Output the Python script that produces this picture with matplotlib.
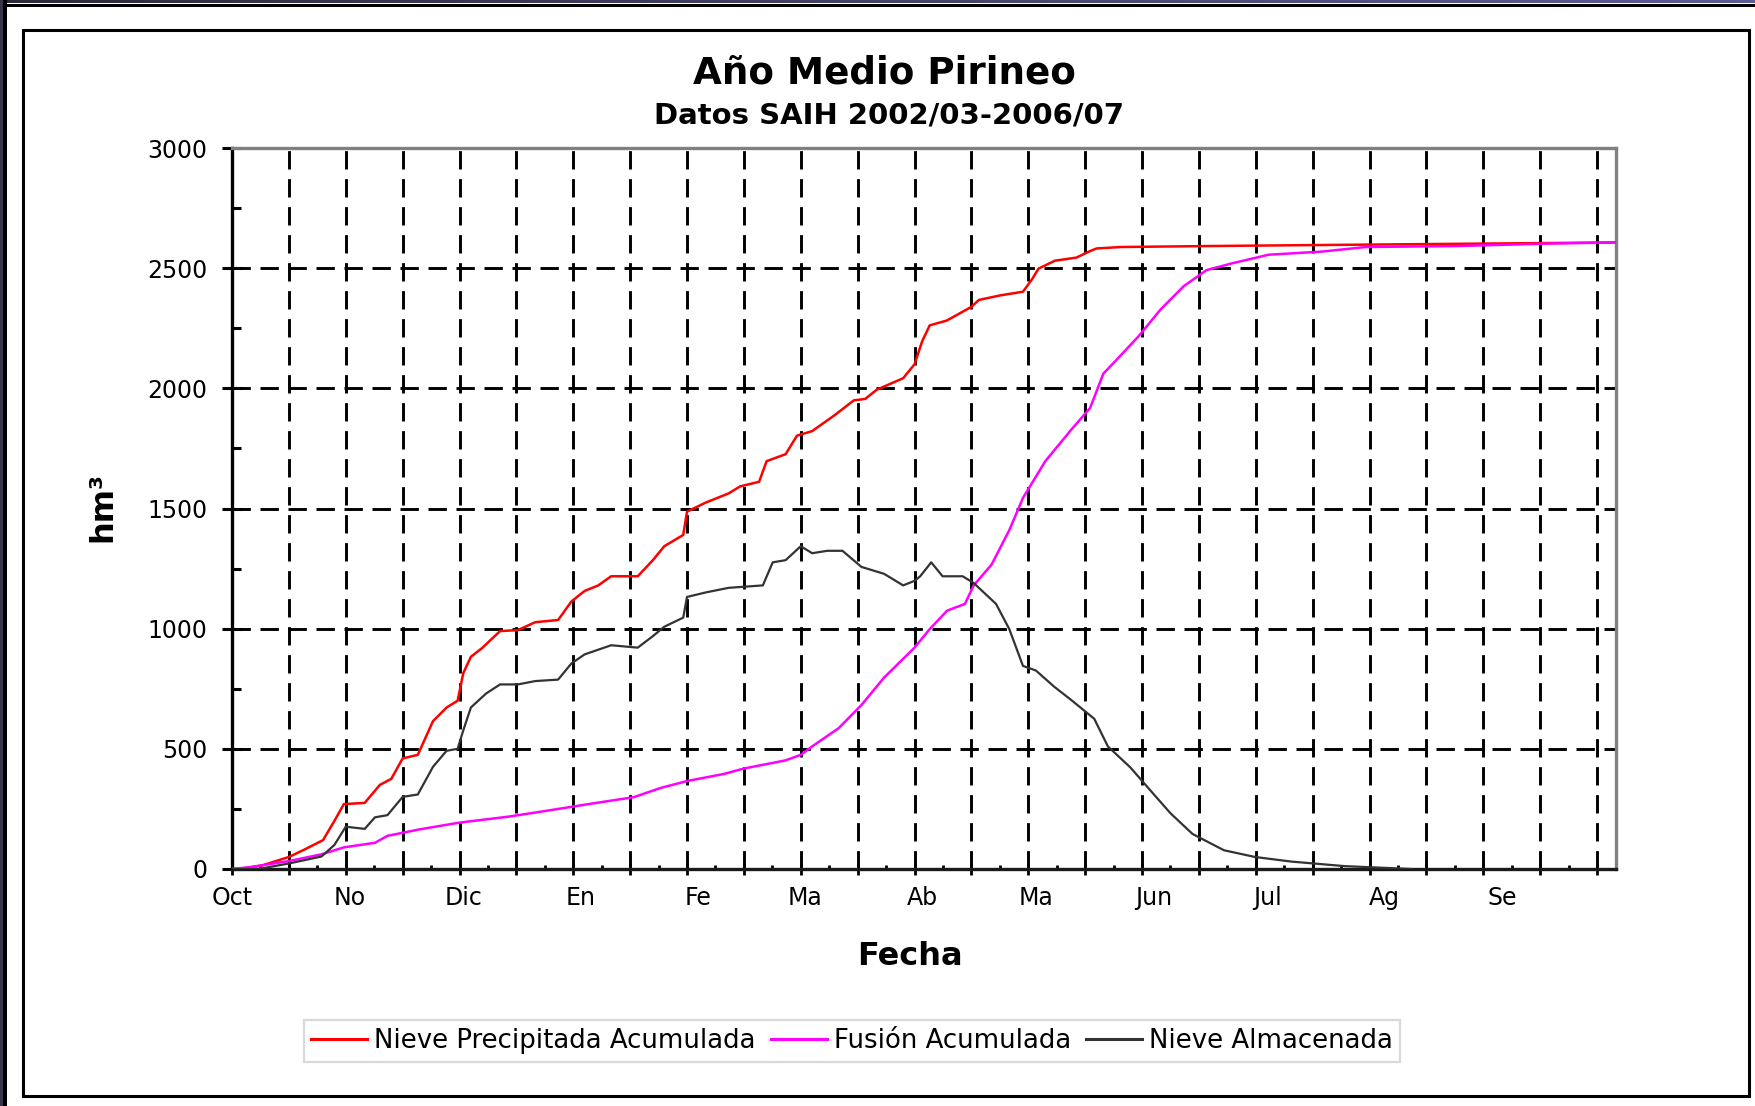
import numpy as np
import matplotlib
matplotlib.use("Agg")
import matplotlib.pyplot as plt
from matplotlib.ticker import MultipleLocator
from matplotlib.patches import Rectangle
from matplotlib.lines import Line2D
from matplotlib.colors import LinearSegmentedColormap
import matplotlib.transforms as mtransforms

# ---------------- data ----------------
month_labels = ["Oct", "No", "Dic", "En", "Fe", "Ma", "Ab", "Ma", "Jun", "Jul", "Ag", "Se"]
month_start_days = [0, 31, 61, 92, 123, 151, 182, 212, 243, 273, 304, 335]

precip_days = [0, 3, 8, 15, 19, 24, 27, 29.5, 35, 39, 42, 45, 49, 53, 56.6, 59.5, 61, 63, 66,
               70.7, 75.4, 80, 86, 89.5, 93, 96.6, 100, 107, 111, 114, 119, 120, 125, 131,
               134, 139, 141, 146, 149, 153, 159, 164, 167, 170, 177, 180, 182, 184, 188.5,
               195, 197, 202.7, 208.6, 211, 212.7, 217, 222.7, 226, 228, 234.5, 257, 299, 365]
precip_vals = [0, 3, 15, 50, 80, 120, 200, 270, 275, 350, 375, 460, 475, 615, 672, 700, 815,
               883, 920, 990, 994, 1027, 1036, 1113, 1157, 1180, 1218, 1218, 1285, 1343, 1390,
               1487, 1525, 1563, 1592, 1611, 1697, 1726, 1803, 1822, 1889, 1950, 1956, 1994,
               2042, 2100, 2195, 2262, 2282, 2339, 2368, 2387, 2402, 2454, 2498, 2531, 2544,
               2569, 2582, 2588, 2592, 2598, 2607]

melt_days = [0, 5, 15, 23.6, 29.5, 37.7, 41, 49.5, 60, 73, 82.5, 94, 106, 113, 120, 129.6,
             135, 146, 150, 153, 160, 166, 172, 180, 184, 188.6, 193.3, 195.6, 200.3, 205,
             208.6, 214.5, 221.5, 226.3, 229.8, 233.3, 239, 245, 251, 257, 264, 273.4,
             287.5, 299, 323, 346.4, 365]
melt_vals = [0, 8, 33, 61, 90, 109, 138, 165, 193, 218, 241, 270, 299, 337, 366, 395, 418,
             452, 475, 510, 586, 682, 797, 921, 998, 1075, 1103, 1180, 1266, 1410, 1544, 1697,
             1831, 1918, 2061, 2119, 2215, 2330, 2425, 2492, 2521, 2556, 2569, 2588, 2592,
             2602, 2607]

stored_days = [0, 7, 15, 23.6, 27, 30, 35, 37.7, 41, 45, 49, 53, 56.6, 59.5, 61, 63, 67, 70.7,
               75.4, 80, 86, 89.5, 93, 100, 107, 111, 114, 119, 120, 125, 131, 140, 142.6,
               146, 150, 153, 157, 161, 166, 172, 177, 180, 181.5, 184.4, 187.4, 192.7, 195.6,
               201.5, 205, 208.6, 212, 216.8, 221.5, 227.4, 231, 236.9, 242.7, 247.5, 253.3,
               261.6, 269.8, 279.3, 293.4, 311]
stored_vals = [0, 0, 23, 52, 100, 176, 167, 215, 224, 300, 310, 425, 492, 500, 577, 672, 730,
               768, 768, 782, 788, 855, 893, 931, 921, 969, 1008, 1046, 1132, 1151, 1170, 1180,
               1276, 1285, 1343, 1314, 1324, 1324, 1257, 1228, 1180, 1199, 1218, 1276, 1218,
               1218, 1190, 1103, 998, 845, 826, 759, 701, 625, 510, 423, 318, 232, 146, 78, 50,
               31, 12, 0]

series_labels = ["Nieve Precipitada Acumulada", "Fusión Acumulada", "Nieve Almacenada"]
series_colors = ["#ff0000", "#ff00ff", "#333333"]

# ---------------- figure ----------------
W, H = 1756, 1106
DPI = 100
fig = plt.figure(figsize=(W / DPI, H / DPI), dpi=DPI)
fig.patch.set_facecolor("white")


def rect_px(x0, y0, x1, y1):
    return [x0 / W, 1 - y1 / H, (x1 - x0) / W, (y1 - y0) / H]


# window decoration: top gradient band, black lines, outer frame
band = fig.add_axes(rect_px(0, 0, W, 3.5))
cmap = LinearSegmentedColormap.from_list("band", ["#2e2a3a", "#5c5c96"])
band.imshow(np.linspace(0, 1, 256)[None, :], aspect="auto", cmap=cmap)
band.set_axis_off()
fig.add_artist(Rectangle((0, 1 - 6.5 / H), 1, 3 / H, transform=fig.transFigure,
                         facecolor="black", edgecolor="none"))
fig.add_artist(Rectangle((0, 0), 3 / W, 1, transform=fig.transFigure,
                         facecolor="#3a3448", edgecolor="none"))
fig.add_artist(Rectangle((3 / W, 0), 3.5 / W, 1, transform=fig.transFigure,
                         facecolor="black", edgecolor="none"))
fig.add_artist(Rectangle((23.5 / W, 1 - 1096 / H), (1749.5 - 23.5) / W, (1096 - 29.5) / H,
                         transform=fig.transFigure, fill=False, edgecolor="black", lw=2.2))

ax = fig.add_axes(rect_px(232, 148, 1616, 869))
ax.plot(precip_days, precip_vals, color=series_colors[0], lw=1.8, zorder=3)
ax.plot(melt_days, melt_vals, color=series_colors[1], lw=1.8, zorder=3)
ax.plot(stored_days, stored_vals, color=series_colors[2], lw=1.6, zorder=3)

ax.set_xlim(0, 365)
ax.set_ylim(0, 3000)
ax.xaxis.set_major_locator(MultipleLocator(15))
ax.xaxis.set_minor_locator(MultipleLocator(7.5))
ax.yaxis.set_major_locator(MultipleLocator(500))
ax.yaxis.set_minor_locator(MultipleLocator(250))

ax.grid(True, which="major", color="black", lw=2.1, linestyle=(0, (6.3, 3.3)))

ax.tick_params(axis="y", which="major", direction="inout", length=14.4, width=2.2,
               pad=10.5, labelsize=17, color="black")
ax.tick_params(axis="y", which="minor", direction="in", length=6.5, width=2.2)
ax.tick_params(axis="x", which="major", direction="inout", length=8, width=2,
               labelbottom=False)
ax.tick_params(axis="x", which="minor", direction="in", length=3, width=2)

for side, col in (("left", "black"), ("bottom", "#1a1a1a"), ("top", "#808080"),
                  ("right", "#808080")):
    ax.spines[side].set_color(col)
    ax.spines[side].set_linewidth(2.4)

trans = mtransforms.blended_transform_factory(ax.transData, ax.transAxes)
for d, lab in zip(month_start_days, month_labels):
    ax.text(d, -0.0499, lab, transform=trans, ha="center", va="baseline", fontsize=17)

# texts
fig.text(884 / W, 1 - 83 / H, "Año Medio Pirineo", ha="center", va="baseline",
         fontsize=26.8, fontweight="bold")
fig.text(889 / W, 1 - 123.3 / H, "Datos SAIH 2002/03-2006/07", ha="center",
         va="baseline", fontsize=21, fontweight="bold")
fig.text(910 / W, 1 - 965 / H, "Fecha", ha="center", va="baseline",
         fontsize=23, fontweight="bold")
fig.text(103 / W, 1 - 507 / H, "hm³", rotation=90, ha="center", va="center",
         fontsize=23, fontweight="bold")

handles = [Line2D([], [], color=c, lw=2.2) for c in series_colors]
leg = fig.legend(handles, series_labels, loc="center",
                 bbox_to_anchor=(852 / W, 1 - 1041 / H), ncol=3, fontsize=18.7,
                 frameon=True, fancybox=False, edgecolor="#d9d9d9", framealpha=1,
                 handlelength=2.15, handletextpad=0.27, columnspacing=0.58,
                 borderpad=0.3, borderaxespad=0)
leg.get_frame().set_linewidth(1.6)

fig.savefig("out.png", dpi=DPI)
